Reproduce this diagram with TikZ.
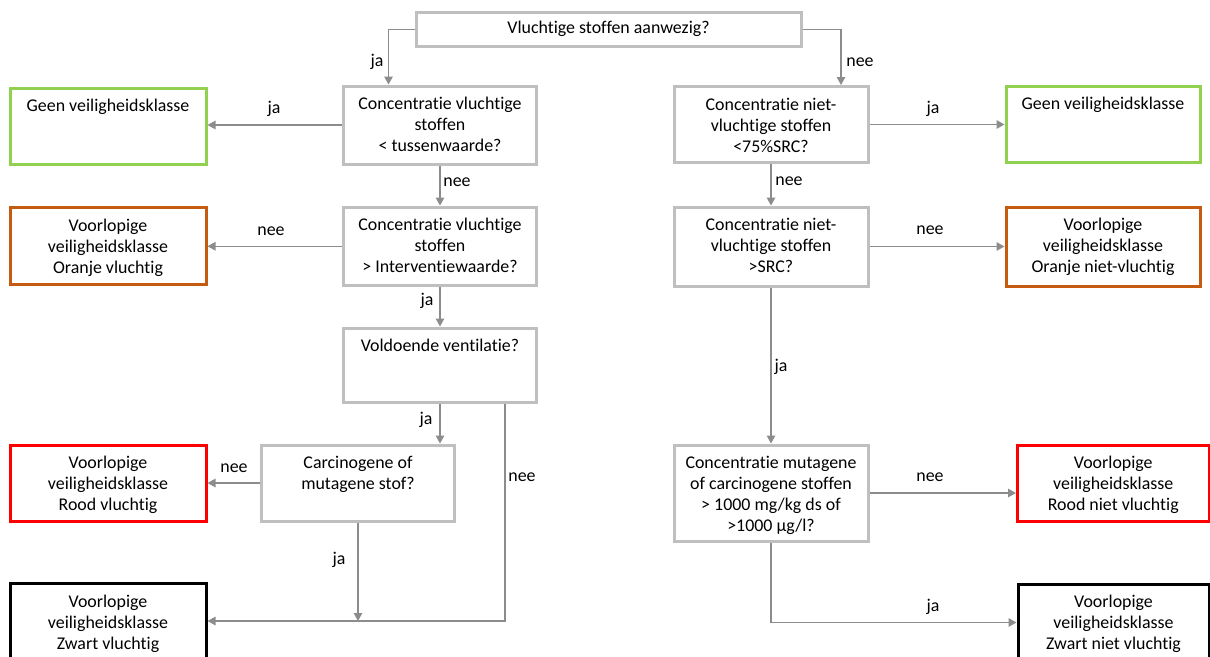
\documentclass[tikz,border=0pt]{standalone}
\usepackage{fontspec}
\setmainfont{Carlito}[Ligatures={NoCommon}]
\usetikzlibrary{arrows.meta,calc}
\definecolor{boxgray}{HTML}{BFBFBF}
\definecolor{arrgray}{HTML}{8C8C8C}
\definecolor{kgreen}{HTML}{92D050}
\definecolor{korange}{HTML}{C55A11}
\definecolor{kred}{HTML}{FF0000}
\newcommand{\bxt}[3]{\parbox[c][#2][t]{#1}{\centering\rule{0pt}{23.5pt}#3}}
\tikzset{
  base/.style={line width=3pt, inner sep=0pt, fill=white, font=\fontsize{17.9}{21}\selectfont},
  qbox/.style={base, draw=boxgray},
  greenbox/.style={base, draw=kgreen},
  orangebox/.style={base, draw=korange},
  redbox/.style={base, draw=kred},
  blackbox/.style={base, draw=black},
  lbl/.style={inner sep=0pt, font=\fontsize{17.9}{21}\selectfont},
  arr/.style={draw=arrgray, line width=1.4pt, -{Triangle[length=8pt,width=8.5pt]}}
}
\begin{document}
\begin{tikzpicture}[x=1pt,y=-1pt]
\useasboundingbox (0,0) rectangle (1210,656);
\clip (0,0) rectangle (1210,656);
% top
\node[qbox] (top) at (608.5,29.25) {\parbox[c][34.5pt][c]{385pt}{\centering Vluchtige stoffen aanwezig?}};
% left column
\node[qbox] (L1) at (440,125) {\bxt{193pt}{78pt}{Concentratie vluchtige\\stoffen\\< tussenwaarde?}};
\node[greenbox] (G1) at (108,126) {\bxt{196pt}{76pt}{Geen veiligheidsklasse}};
\node[qbox] (L2) at (440,246.25) {\bxt{193pt}{78.5pt}{Concentratie vluchtige\\stoffen\\> Interventiewaarde?}};
\node[orangebox] (O1) at (108,246) {\bxt{196pt}{77pt}{Voorlopige\\veiligheidsklasse\\Oranje vluchtig}};
\node[qbox] (L3) at (440,365) {\bxt{193pt}{74pt}{Voldoende ventilatie?}};
\node[qbox] (L4) at (358,483) {\bxt{193pt}{76pt}{Carcinogene of\\mutagene stof?}};
\node[redbox] (Rd1) at (108,483) {\bxt{196pt}{76pt}{Voorlopige\\veiligheidsklasse\\Rood vluchtig}};
\node[blackbox] (Z1) at (108,622.25) {\bxt{196pt}{77.5pt}{Voorlopige\\veiligheidsklasse\\Zwart vluchtig}};
% right column
\node[qbox] (R1) at (771,124.5) {\bxt{194pt}{76pt}{Concentratie niet-\\vluchtige stoffen\\<75\%SRC?}};
\node[greenbox] (G2) at (1103,124.25) {\bxt{194pt}{76.5pt}{Geen veiligheidsklasse}};
\node[qbox] (R2) at (771,246.5) {\bxt{194pt}{79pt}{Concentratie niet-\\vluchtige stoffen\\>SRC?}};
\node[orangebox] (O2) at (1103,246.5) {\bxt{194pt}{79pt}{Voorlopige\\veiligheidsklasse\\Oranje niet-vluchtig}};
\node[qbox] (R3) at (771,493) {\bxt{194pt}{96pt}{Concentratie mutagene\\of carcinogene stoffen\\> 1000 mg/kg ds of\\>1000 µg/l?}};
\node[redbox] (Rd2) at (1113.25,483) {\bxt{191.5pt}{76pt}{Voorlopige\\veiligheidsklasse\\Rood niet vluchtig}};
\node[blackbox] (Z2) at (1113.5,622.5) {\bxt{191pt}{77pt}{Voorlopige\\veiligheidsklasse\\Zwart niet vluchtig}};
% helper coordinates
\coordinate (cL) at (388.5,0);
\coordinate (cR) at (841,0);
\coordinate (jB) at (505,621);
% connectors
\draw[arr] (top.west) -| (L1.north -| cL);
\draw[arr] (top.east) -| (R1.north -| cR);
\draw[arr] (L1.west) -- (L1.west -| G1.east);
\draw[arr] (L1.south) -- (L2.north);
\draw[arr] (L2.west) -- (L2.west -| O1.east);
\draw[arr] (L2.south) -- (L3.north);
\draw[arr] (L3.south) -- (L3.south |- L4.north);
\draw[arr] (L4.west) -- (L4.west -| Rd1.east);
\draw[arr] (L4.south) -- (L4.south |- jB);
\draw[arr] (L3.south -| jB) -- (jB) -- (jB -| Z1.east);
\draw[arr] (R1.east) -- (R1.east -| G2.west);
\draw[arr] (R1.south) -- (R2.north);
\draw[arr] (R2.east) -- (R2.east -| O2.west);
\draw[arr] (R2.south) -- (R3.north);
\draw[arr] (R3.east) -- (R3.east -| Rd2.west);
\draw[arr] (R3.south) |- (Z2.west);
% connector labels
\node[lbl] (t1) at (377,62) {ja};
\node[lbl] (t2) at (860,62) {nee};
\node[lbl] (t3) at (274,109) {ja};
\node[lbl] (t4) at (457,182) {nee};
\node[lbl] (t5) at (271,231) {nee};
\node[lbl] (t6) at (427,301) {ja};
\node[lbl] (t7) at (426,420) {ja};
\node[lbl] (t8) at (234,468) {nee};
\node[lbl] (t9) at (522,477) {nee};
\node[lbl] (t10) at (339,560) {ja};
\node[lbl] (t11) at (933,109) {ja};
\node[lbl] (t12) at (789,181) {nee};
\node[lbl] (t13) at (930,230) {nee};
\node[lbl] (t14) at (781,367) {ja};
\node[lbl] (t15) at (930,477) {nee};
\node[lbl] (t16) at (933,607) {ja};
\end{tikzpicture}
\end{document}
